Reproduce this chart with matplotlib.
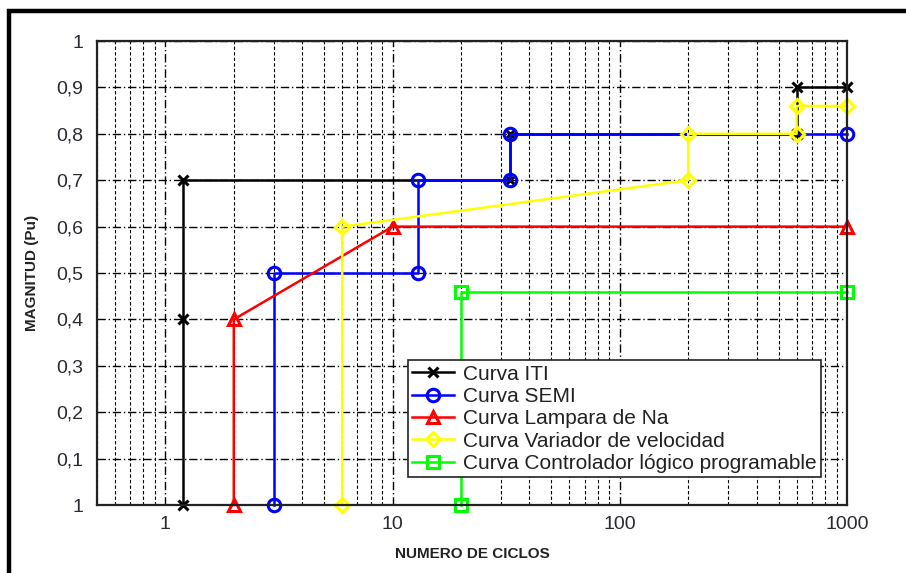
import matplotlib
matplotlib.use("Agg")
import matplotlib.pyplot as plt
from matplotlib.patches import Rectangle
from matplotlib.ticker import FixedLocator, FixedFormatter, LogLocator, NullFormatter

plt.rcParams['font.family'] = ['Liberation Sans', 'DejaVu Sans']

# Data
iti_x = [1.2, 1.2, 1.2, 33, 33, 600, 600, 1000]
iti_y = [0, 0.4, 0.7, 0.7, 0.8, 0.8, 0.9, 0.9]
semi_x = [3, 3, 13, 13, 33, 33, 1000]
semi_y = [0, 0.5, 0.5, 0.7, 0.7, 0.8, 0.8]
lamp_x = [2, 2, 10, 1000]
lamp_y = [0, 0.4, 0.6, 0.6]
var_x = [6, 6, 200, 200, 600, 600, 1000]
var_y = [0, 0.6, 0.7, 0.8, 0.8, 0.86, 0.86]
plc_x = [20, 20, 1000]
plc_y = [0, 0.46, 0.46]

series_labels = ["Curva ITI", "Curva SEMI", "Curva Lampara de Na",
                 "Curva Variador de velocidad", "Curva Controlador lógico programable"]
y_ticks = [0, 0.1, 0.2, 0.3, 0.4, 0.5, 0.6, 0.7, 0.8, 0.9, 1.0]
y_tick_labels = ["1", "0,1", "0,2", "0,3", "0,4", "0,5", "0,6", "0,7", "0,8", "0,9", "1"]
x_ticks = [1, 10, 100, 1000]
x_tick_labels = ["1", "10", "100", "1000"]

fig = plt.figure(figsize=(9.06, 5.73), dpi=100)
ax = fig.add_axes([97/906, 1-505/573, 750/906, 464/573])

# figure border
fig.patches.append(Rectangle((9/906, -0.2), 1.2, 1-11/573+0.2, transform=fig.transFigure,
                             fill=False, edgecolor='black', linewidth=3.2, zorder=0))

ax.set_xscale('log')
ax.set_xlim(0.5, 1000)
ax.set_ylim(0, 1)

ax.xaxis.set_major_locator(FixedLocator(x_ticks))
ax.xaxis.set_major_formatter(FixedFormatter(x_tick_labels))
ax.xaxis.set_minor_locator(LogLocator(base=10, subs=range(2, 10), numticks=20))
ax.xaxis.set_minor_formatter(NullFormatter())
ax.yaxis.set_major_locator(FixedLocator(y_ticks))
ax.yaxis.set_major_formatter(FixedFormatter(y_tick_labels))

ax.grid(True, which='major', axis='both', color='black', linestyle=(0, (6, 2, 1, 2)), linewidth=1.0)
ax.grid(True, which='minor', axis='x', color='black', linestyle=(0, (3, 2)), linewidth=0.8)
ax.set_axisbelow(True)

ax.tick_params(which='both', length=0, labelsize=14, labelcolor='#2a2a33')
ax.tick_params(axis='x', pad=8)
ax.tick_params(axis='y', pad=10)
for s in ax.spines.values():
    s.set_linewidth(1.6)
    s.set_color('#222222')

lw = 1.8
ax.plot(iti_x, iti_y, color='black', lw=lw, marker='x', ms=7, mew=2.2, label=series_labels[0])
ax.plot(semi_x, semi_y, color='#0000ff', lw=lw, marker='o', ms=9, mfc='none', mew=2.2, label=series_labels[1])
ax.plot(lamp_x, lamp_y, color='#ff0000', lw=lw, marker='^', ms=9, mfc='none', mew=2.2, label=series_labels[2])
ax.plot(var_x, var_y, color='#ffff00', lw=lw, marker='D', ms=7, mfc='none', mew=2.2, label=series_labels[3])
ax.plot(plc_x, plc_y, color='#00ff00', lw=lw, marker='s', ms=9, mfc='none', mew=2.2, label=series_labels[4])

for l in ax.lines:
    l.set_clip_on(False)

ax.set_xlabel("NUMERO DE CICLOS", fontsize=11, fontweight='bold', color='#222222', labelpad=10)
ax.set_ylabel("MAGNITUD (Pu)", fontsize=11, fontweight='bold', color='#222222', labelpad=12)

leg = ax.legend(loc='lower left', bbox_to_anchor=(0.415, 0.06), fontsize=15, frameon=True,
                fancybox=False, edgecolor='#222222', framealpha=1, borderpad=0.2,
                labelspacing=0.16, handlelength=2.0, handletextpad=0.45, borderaxespad=0)
leg.get_frame().set_linewidth(1.2)
for t in leg.get_texts():
    t.set_color('#222222')

fig.savefig("out.png", dpi=100)
